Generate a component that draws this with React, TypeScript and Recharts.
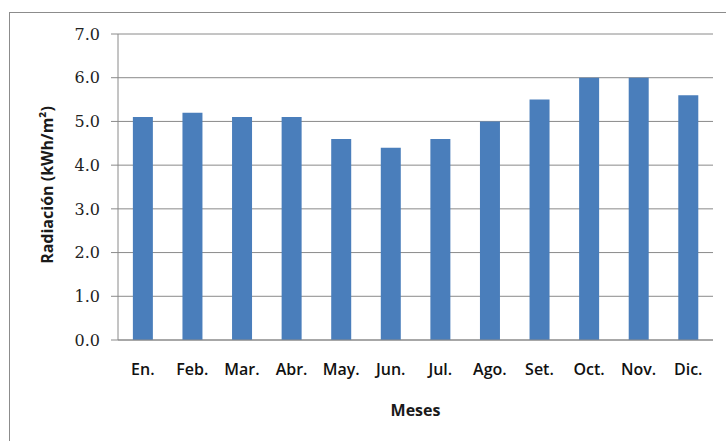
import React from "react";
import { BarChart, Bar, XAxis, YAxis, CartesianGrid, Label } from "recharts";

const months = ["En.", "Feb.", "Mar.", "Abr.", "May.", "Jun.", "Jul.", "Ago.", "Set.", "Oct.", "Nov.", "Dic."];
const radiation = [5.1, 5.2, 5.1, 5.1, 4.6, 4.4, 4.6, 5.0, 5.5, 6.0, 6.0, 5.6];
const yTicks = [0, 1, 2, 3, 4, 5, 6, 7];

const data = months.map((m, i) => ({ mes: m, rad: radiation[i] }));

const GRAY = "#8a8a8a";
const SANS = "'Open Sans', 'Noto Sans', sans-serif";

const YTitle = (props: any) => {
  const vb = props.viewBox || { x: 0, y: 0, width: 0, height: 0 };
  const cx = vb.x + 47;
  const cy = 185;
  return (
    <text
      x={cx}
      y={cy}
      transform={`rotate(-90, ${cx}, ${cy})`}
      textAnchor="middle"
      dominantBaseline="central"
      fontFamily={SANS}
      fontWeight="bold"
      fontSize={16}
      fill="#1a1a1a"
    >
      Radiación (kWh/m²)
    </text>
  );
};

const XTitle = (props: any) => {
  const vb = props.viewBox || { x: 0, y: 0, width: 0, height: 0 };
  const cx = vb.x + vb.width / 2;
  return (
    <text
      x={cx}
      y={vb.y + 70}
      textAnchor="middle"
      dominantBaseline="central"
      fontFamily={SANS}
      fontWeight="bold"
      fontSize={16}
      fill="#1a1a1a"
    >
      Meses
    </text>
  );
};

export default function App() {
  return (
    <div style={{ position: "absolute", left: 0, top: 0, width: 726, height: 441, overflow: "hidden", background: "#fff" }}>
      <div
        style={{
          position: "absolute",
          left: 9,
          top: 12,
          width: 740,
          height: 460,
          border: "1px solid #8c8c8c",
          boxSizing: "border-box",
        }}
      />
      <div style={{ position: "absolute", left: 0, top: 0 }}>
        <BarChart
          width={726}
          height={441}
          data={data}
          margin={{ top: 34, right: 13, left: 0, bottom: 0 }}
          barCategoryGap="30%"
        >
          <CartesianGrid vertical={false} stroke={GRAY} strokeWidth={1} />
          <XAxis
            dataKey="mes"
            height={101}
            axisLine={{ stroke: GRAY }}
            tickLine={false}
            interval={0}
            tick={{ fill: "#111", fontSize: 16, fontWeight: 600, fontFamily: SANS }}
            dy={16}
          >
            <Label content={<XTitle />} />
          </XAxis>
          <YAxis
            width={118}
            domain={[0, 7]}
            ticks={yTicks}
            interval={0}
            tickFormatter={(v: number) => v.toFixed(1)}
            axisLine={{ stroke: GRAY }}
            tickLine={{ stroke: GRAY }}
            tickSize={7}
            tickMargin={11}
            tick={{ fill: "#222", fontSize: 16, fontFamily: "'DejaVu Serif', 'Liberation Serif', serif" }}
          >
            <Label content={<YTitle />} />
          </YAxis>
          <Bar dataKey="rad" fill="#4a7ebb" isAnimationActive={false} />
        </BarChart>
      </div>
    </div>
  );
}
